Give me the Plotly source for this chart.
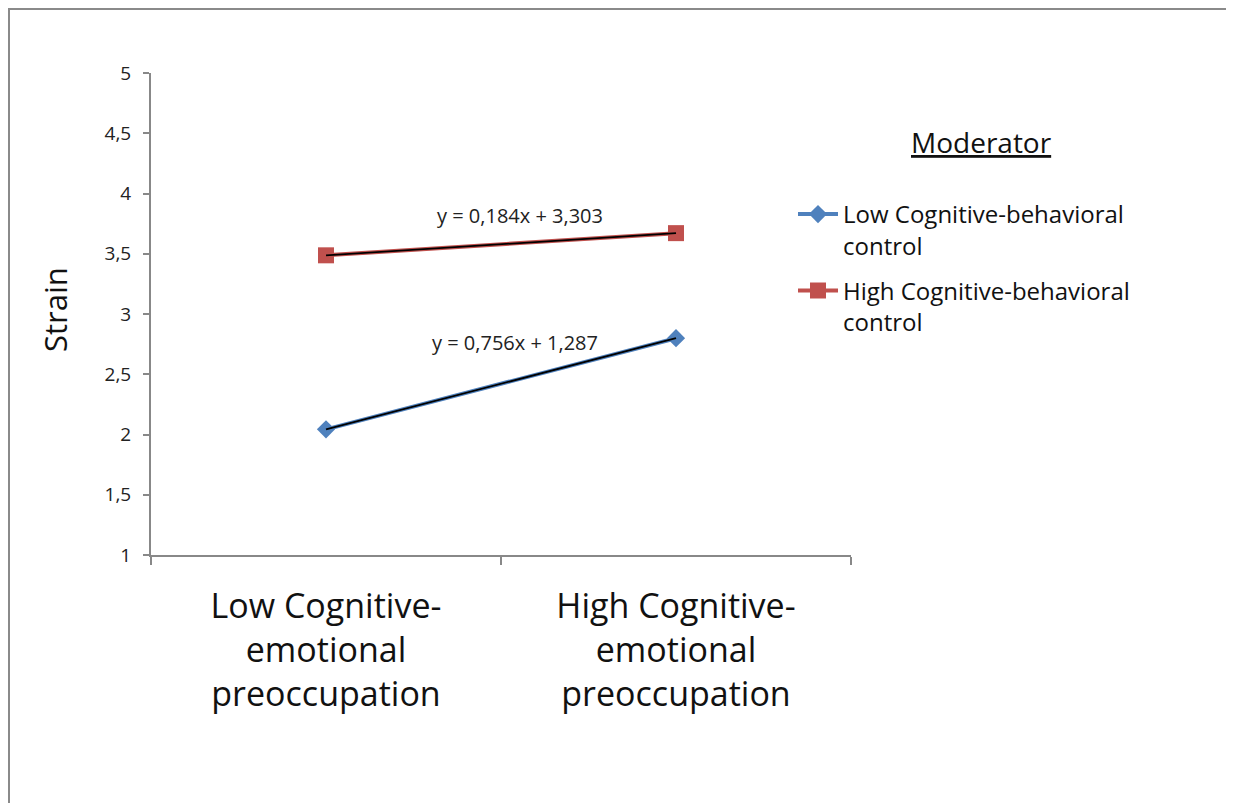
import numpy as np
import plotly.graph_objects as go

categories = ["Low Cognitive-<br>emotional<br>preoccupation",
              "High Cognitive-<br>emotional<br>preoccupation"]
low_cbc = [2.043, 2.799]
high_cbc = [3.487, 3.671]
series_names = ["Low Cognitive-behavioral<br>control",
                "High Cognitive-behavioral<br>control"]
y_ticks = [1, 1.5, 2, 2.5, 3, 3.5, 4, 4.5, 5]

FONT = "Open Sans"
fig = go.Figure()

fig.add_trace(go.Scatter(x=categories, y=low_cbc, mode="lines+markers",
                         name=series_names[0], legendgroup="low",
                         line=dict(color="#4F81BD", width=4),
                         marker=dict(symbol="diamond", size=14, color="#4F81BD")))
fig.add_trace(go.Scatter(x=categories, y=high_cbc, mode="lines+markers",
                         name=series_names[1], legendgroup="high",
                         line=dict(color="#C0504D", width=4),
                         marker=dict(symbol="square", size=16, color="#C0504D")))

# linear trendlines (x = 1, 2) computed from the data
xs = np.array([1, 2])
eq_pos = {0: (0.54, 2.76), 1: (0.554, 3.82)}
for i, ys in enumerate([low_cbc, high_cbc]):
    slope, intercept = np.polyfit(xs, ys, 1)
    fit = slope * xs + intercept
    fig.add_trace(go.Scatter(x=categories, y=fit, mode="lines", showlegend=False,
                             line=dict(color="black", width=1.8), hoverinfo="skip"))
    label = "y = {:.3f}x + {:.3f}".format(slope, intercept).replace(".", ",")
    ax, ay = eq_pos[i]
    fig.add_annotation(x=ax, y=ay, xref="x", yref="y", text=label, showarrow=False,
                       xanchor="center", yanchor="middle",
                       font=dict(family=FONT, size=20, color="#222222"))


# helper: screen px -> paper coords (plot area spans screen x 151..851, y 73..555)
def px(sx):
    return (sx - 151) / 700


def py(sy):
    return (555 - sy) / 482


fig.add_annotation(x=px(982), y=py(142), xref="paper", yref="paper",
                   text="<u>Moderator</u>", showarrow=False,
                   xanchor="center", yanchor="middle",
                   font=dict(family=FONT, size=28, color="#111111"))

fig.add_annotation(x=px(55), y=py(310), xref="paper", yref="paper",
                   text="Strain", showarrow=False, textangle=-90,
                   xanchor="center", yanchor="middle",
                   font=dict(family=FONT, size=31, color="#111111"))

fig.add_shape(type="rect", xref="paper", yref="paper",
              x0=px(9), x1=px(1229), y0=py(830), y1=py(9),
              line=dict(color="#8A8A8A", width=2), fillcolor="rgba(0,0,0,0)", layer="below")

fig.update_layout(
    width=1226, height=795,
    margin=dict(l=143, r=383, t=65, b=248, autoexpand=False),
    paper_bgcolor="white", plot_bgcolor="white",
    separators=",.",
    font=dict(family=FONT, color="#222222"),
    showlegend=True,
    legend=dict(x=px(793), y=py(192), xanchor="left", yanchor="top",
                font=dict(family=FONT, size=24, color="#111111"),
                valign="top", itemwidth=40, tracegroupgap=11,
                bgcolor="rgba(0,0,0,0)"),
    xaxis=dict(type="category", tickson="boundaries", showline=True, linecolor="#888888",
               linewidth=2, ticks="outside", ticklen=8, tickcolor="#888888", tickwidth=1.5,
               showgrid=False, zeroline=False, range=[-0.5, 1.5], ticklabelstandoff=20,
               tickfont=dict(family=FONT, size=34, color="#111111")),
    yaxis=dict(range=[1, 5], tickvals=y_ticks, showline=True, linecolor="#888888",
               linewidth=2, ticks="outside", ticklen=6, tickcolor="#888888", tickwidth=1.5,
               showgrid=False, zeroline=False, ticklabelstandoff=8,
               tickfont=dict(family=FONT, size=19, color="#222222")),
)

fig.write_html("out.html")
